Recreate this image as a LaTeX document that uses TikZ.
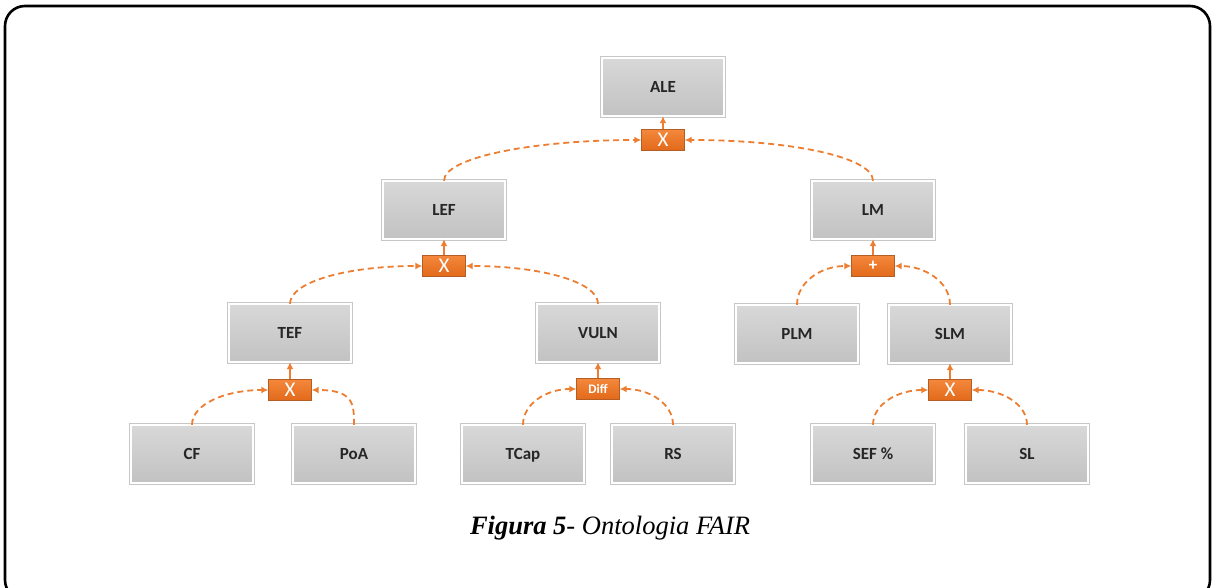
\documentclass[tikz,border=0pt]{standalone}
\usepackage{fontspec}
\setmainfont{Liberation Serif}
\newfontfamily\calfont{Carlito}
\usepackage{tikz}
\usetikzlibrary{arrows.meta,backgrounds,calc}
\definecolor{fairorange}{HTML}{ED7D31}
\definecolor{fairoptop}{HTML}{F4883C}
\definecolor{fairopbot}{HTML}{E2691A}
\definecolor{fairboxtop}{HTML}{D8D8D8}
\definecolor{fairboxbot}{HTML}{C2C2C2}
\tikzset{
  fairbox/.style={rectangle, minimum width=122pt, minimum height=58pt,
    top color=fairboxtop, bottom color=fairboxbot, text height=11pt, text depth=0pt,
    font=\calfont\bfseries\fontsize{17}{19}\selectfont, text=black!85},
  fairop/.style={rectangle, minimum width=43pt, minimum height=21pt, inner sep=0pt,
    top color=fairoptop, bottom color=fairopbot,
    draw=fairorange!75!black, line width=0.4pt, text=white,
    font=\calfont\fontsize{21}{21}\selectfont},
  faircurve/.style={draw=fairorange, line width=1.8pt, dash pattern=on 6pt off 4pt,
    -{Latex[length=7pt,width=7pt]}},
  fairup/.style={draw=fairorange, line width=1.8pt, -{Latex[length=7pt,width=7pt]}}
}
\begin{document}
\begin{tikzpicture}[x=1pt,y=-1pt]
\useasboundingbox (0,0) rectangle (1213,588);
\draw[line width=2.6pt, rounded corners=20pt] (5,6) rectangle (1210,600);

% livello 1
\node[fairbox] (ale) at (663,87) {ALE};
\node[fairop] (opale) at (663,140) {X};
% livello 2
\node[fairbox] (lef) at (444,210) {LEF};
\node[fairop] (oplef) at (444,266) {X};
\node[fairbox] (lm) at (873,210) {LM};
\node[fairop, font=\calfont\bfseries\fontsize{17}{17}\selectfont] (oplm) at (873,266) {+};
% livello 3
\node[fairbox] (tef) at (290,333) {TEF};
\node[fairop] (optef) at (290,390) {X};
\node[fairbox] (vuln) at (598,333) {VULN};
\node[fairop, font=\calfont\bfseries\fontsize{13}{13}\selectfont] (opvuln) at (598,389) {Diff};
\node[fairbox] (plm) at (797,334) {PLM};
\node[fairbox] (slm) at (950,334) {SLM};
\node[fairop] (opslm) at (950,390) {X};
% livello 4
\node[fairbox] (cf) at (192,454) {CF};
\node[fairbox] (poa) at (354,454) {PoA};
\node[fairbox] (tcap) at (523,454) {TCap};
\node[fairbox] (rs) at (673,454) {RS};
\node[fairbox] (sef) at (873,454) {SEF \%};
\node[fairbox] (sl) at (1027,454) {SL};

% cornice bianca e grigia dei riquadri
\foreach \n in {ale, lef, lm, tef, vuln, plm, slm, cf, poa, tcap, rs, sef, sl}{
  \draw[white, line width=1.6pt] (\n.south west) rectangle (\n.north east);
  \draw[black!22, line width=0.6pt] ($(\n.south west)+(-1.5,1.5)$) rectangle ($(\n.north east)+(1.5,-1.5)$);
}

% operatori verso il padre
\foreach \o/\p in {opale/ale, oplef/lef, oplm/lm, optef/tef, opvuln/vuln, opslm/slm}
  \draw[fairup] (\o.north) -- (\p.south);

% figli verso operatori
\foreach \a/\o/\b/\u/\v in {lef/opale/lm/24/105, tef/oplef/vuln/22/75, plm/oplm/slm/23/30,
    cf/optef/poa/21/42, tcap/opvuln/rs/21/30, sef/opslm/sl/21/30}{
  \draw[faircurve] (\a.north) to[out=90,in=180,out distance=\u pt,in distance=\v pt] (\o.west);
  \draw[faircurve] (\b.north) to[out=90,in=0,out distance=\u pt,in distance=\v pt] (\o.east);
}

\node[font=\fontsize{26.5}{30}\selectfont] (caption) at (610,528)
  {\textbf{\textit{Figura 5}}\textit{- Ontologia FAIR}};
\end{tikzpicture}
\end{document}
